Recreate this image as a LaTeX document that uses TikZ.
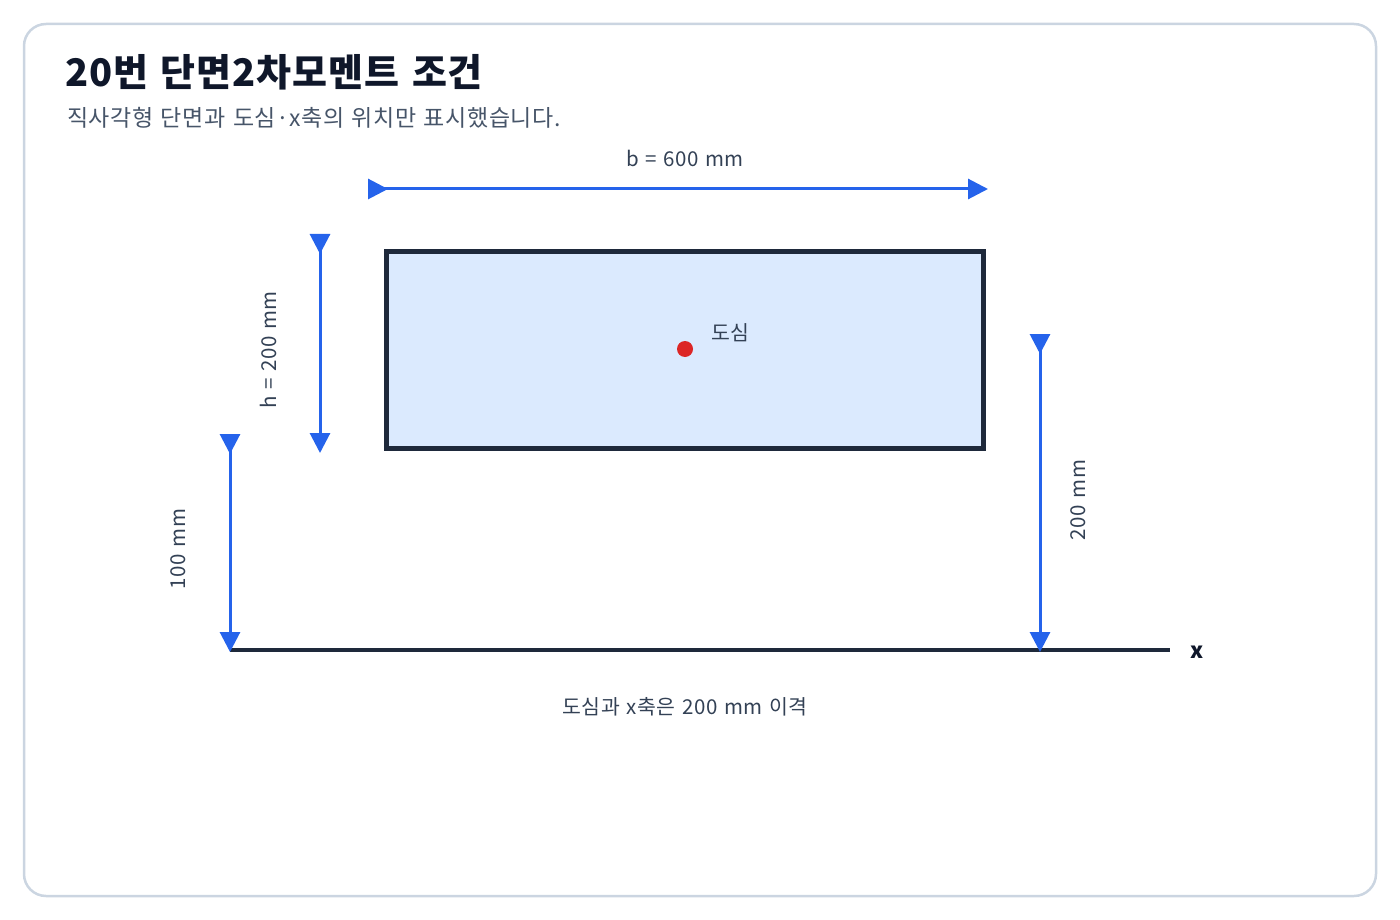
\documentclass[tikz,border=0pt]{standalone}
\usepackage{fontspec}
\setmainfont{Noto Sans CJK KR}[LetterSpace=2.5, WordSpace=1.3]
\usetikzlibrary{arrows.meta}
\definecolor{ink}{HTML}{0F172A}
\definecolor{slate}{HTML}{475569}
\definecolor{label}{HTML}{334155}
\definecolor{frame}{HTML}{CBD5E1}
\definecolor{edge}{HTML}{1E293B}
\definecolor{paleblue}{HTML}{DBEAFE}
\definecolor{dimblue}{HTML}{2563EB}
\definecolor{dotred}{HTML}{DC2626}
\begin{document}
\begin{tikzpicture}[x=1pt, y=-1pt,
    section/.style ={draw=edge, fill=paleblue, line width=5pt, minimum width=597pt, minimum height=197pt, inner sep=0pt},
    dimension/.style ={draw=dimblue, line width=3pt, {Triangle[reversed, length=20pt, width=20pt]}-{Triangle[length=20pt, width=20pt]}},
    dimlabel/.style ={text=label, font=\fontsize{20.5}{24}\selectfont, inner sep=0pt}]
   \useasboundingbox (0,0) rectangle (1400,920);
   \draw[frame, line width=2.5pt, rounded corners=22pt] (24,24) rectangle (1376,896);
   \node[anchor=base west, text=ink, font=\fontsize{38}{42}\selectfont\bfseries, inner sep=0pt] (title) at (65,87) {20번 단면2차모멘트 조건};
   \node[anchor=base west, text=slate, font=\fontsize{23}{27}\selectfont, inner sep=0pt] (subtitle) at (67,127) {직사각형 단면과 도심·x축의 위치만 표시했습니다.};
   \node[section] (sec) at (685,349.5) {};
   \node[circle, fill=dotred, minimum size=16pt, inner sep=0pt] (cen) at (685,349) {};
   \node[dimlabel, anchor=west] (cenlabel) at (711,333) {도심};
   % b
   \coordinate (b1) at (368,189);
   \coordinate (b2) at (988,189);
   \draw[dimension] (b1) to (b2);
   \node[dimlabel] (blabel) at (685,158) {b = 600 mm};
   % h
   \coordinate (h1) at (320,234);
   \coordinate (h2) at (320,453);
   \draw[dimension] (h1) to (h2);
   \node[dimlabel, rotate=90] (hlabel) at (268,350) {h = 200 mm};
   % axis
   \coordinate (x1) at (230,650);
   \coordinate (x2) at (1170,650);
   \draw[edge, line width=4pt] (x1) to (x2);
   \node[text=ink, font=\fontsize{22}{26}\selectfont\bfseries, inner sep=0pt] (xlabel) at (1197,652) {x};
   % 100 mm
   \coordinate (p1) at (230,434);
   \coordinate (p2) at (230,652);
   \draw[dimension] (p1) to (p2);
   \node[dimlabel, rotate=90] (plabel) at (178,549) {100 mm};
   % 200 mm
   \coordinate (q1) at (1040,334);
   \coordinate (q2) at (1040,652);
   \draw[dimension] (q1) to (q2);
   \node[dimlabel, rotate=90] (qlabel) at (1078,500) {200 mm};
   \node[dimlabel] (note) at (685,707) {도심과 x축은 200 mm 이격};
 \end{tikzpicture}
\end{document}
